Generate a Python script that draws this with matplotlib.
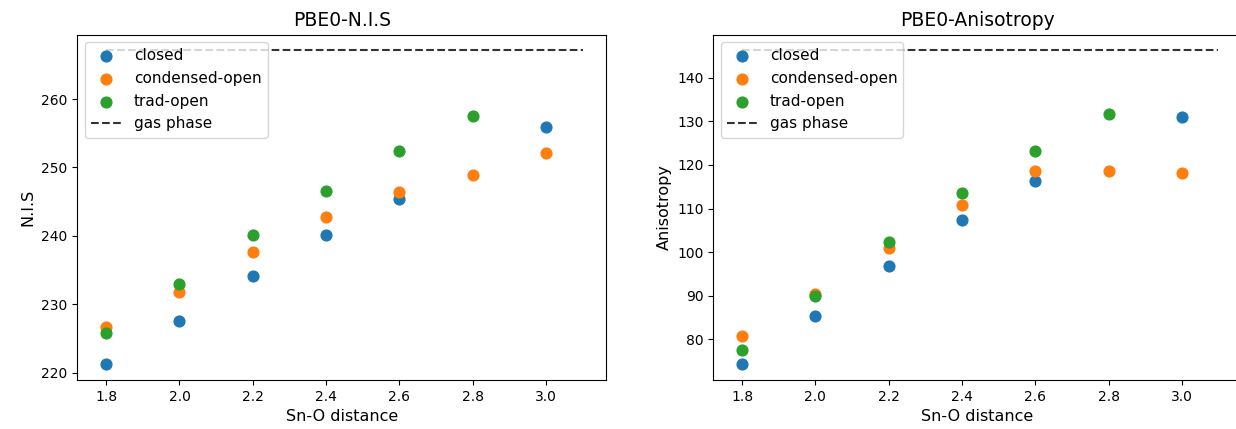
import matplotlib
matplotlib.use("Agg")
import matplotlib.pyplot as plt

# Sn-O distances
x_closed = [1.8, 2.0, 2.2, 2.4, 2.6, 3.0]
x_cond = [1.8, 2.0, 2.2, 2.4, 2.6, 2.8, 3.0]
x_trad = [1.8, 2.0, 2.2, 2.4, 2.6, 2.8]

# N.I.S values
nis_closed = [221.2, 227.6, 234.1, 240.1, 245.4, 255.9]
nis_cond = [226.6, 231.8, 237.6, 242.7, 246.4, 248.9, 252.1]
nis_trad = [225.8, 233.0, 240.1, 246.6, 252.4, 257.5]
nis_gas = 267.1

# anisotropy values
ani_closed = [74.2, 85.4, 96.7, 107.3, 116.4, 131.0]
ani_cond = [80.7, 90.4, 101.0, 110.9, 118.5, 118.5, 118.2]
ani_trad = [77.5, 89.9, 102.3, 113.5, 123.3, 131.7]
ani_gas = 146.3

gas_x = [1.8, 3.1]

fig = plt.figure(figsize=(12.36, 4.29), dpi=100)
ax1 = fig.add_axes([0.0625, 0.114, 0.4278, 0.805])
ax2 = fig.add_axes([0.577, 0.114, 0.4278, 0.805])


def draw(ax, yc, yo, yt, gas, title, ylab):
    ax.scatter(x_closed, yc, s=60, label="closed")
    ax.scatter(x_cond, yo, s=60, label="condensed-open")
    ax.scatter(x_trad, yt, s=60, label="trad-open")
    ax.plot(gas_x, [gas, gas], "--", color="#333333", label="gas phase")
    ax.set_title(title, fontsize=13.5)
    ax.set_xlabel("Sn-O distance", fontsize=11.5)
    ax.set_ylabel(ylab, fontsize=11.5)
    ax.set_xticks([1.8, 2.0, 2.2, 2.4, 2.6, 2.8, 3.0])
    ax.set_xlim(1.721, 3.164)
    ax.legend(loc="upper left", fontsize=11)


draw(ax1, nis_closed, nis_cond, nis_trad, nis_gas, "PBE0-N.I.S", "N.I.S")
draw(ax2, ani_closed, ani_cond, ani_trad, ani_gas, "PBE0-Anisotropy", "Anisotropy")

fig.savefig("out.png", dpi=100)
